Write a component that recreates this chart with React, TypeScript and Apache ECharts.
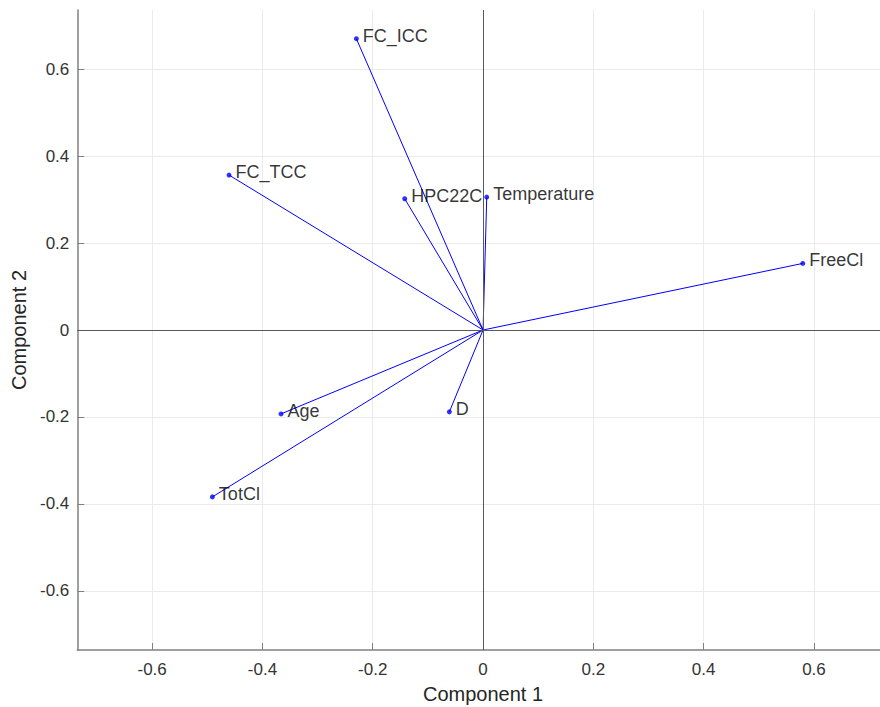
import React, { useEffect, useRef } from "react";
import * as echarts from "echarts";

// Principal component coefficients (biplot vectors)
const variables = ["FC_ICC", "FC_TCC", "HPC22C", "Temperature", "FreeCl", "Age", "D", "TotCl"];
const component1 = [-0.2297, -0.4606, -0.142, 0.0067, 0.5797, -0.3663, -0.0611, -0.4908];
const component2 = [0.6697, 0.3562, 0.3017, 0.3056, 0.1531, -0.1929, -0.1882, -0.3837];

const tickValues = [-0.6, -0.4, -0.2, 0, 0.2, 0.4, 0.6];
const axisLimit = 0.7357;

const FONT = "'Liberation Sans', Helvetica, Arial, sans-serif";
const BLUE = "#0000ff";

export default function App() {
  const ref = useRef<HTMLDivElement>(null);

  useEffect(() => {
    if (!ref.current) return;
    const chart = echarts.init(ref.current, undefined, { renderer: "svg" });

    const vectorSeries = variables.map((name, i) => ({
      type: "line",
      name,
      data: [
        [0, 0],
        [component1[i], component2[i]],
      ],
      showSymbol: false,
      symbol: "none",
      lineStyle: { color: BLUE, width: 1 },
      silent: true,
      z: 3,
    }));

    const axisCommon = {
      type: "value",
      min: -axisLimit,
      max: axisLimit,
      nameLocation: "middle",
      nameTextStyle: { fontFamily: FONT, fontSize: 20, color: "#262626" },
      axisLine: { show: true, onZero: false, lineStyle: { color: "#808080", width: 1.5 } },
      axisTick: {
        show: true,
        inside: true,
        length: 7,
        customValues: tickValues,
        lineStyle: { color: "#808080", width: 1 },
      },
      axisLabel: {
        customValues: tickValues,
        fontFamily: FONT,
        fontSize: 17,
        color: "#333333",
      },
      splitLine: { show: true, lineStyle: { color: "#ebebeb", width: 1 } },
    };

    chart.setOption({
      animation: false,
      backgroundColor: "#ffffff",
      grid: {
        left: 77.3,
        top: 10,
        width: 811.5,
        height: 640,
        containLabel: false,
        outerBoundsMode: "none",
      },
      xAxis: {
        ...axisCommon,
        name: "Component 1",
        nameGap: 34,
        axisLabel: { ...axisCommon.axisLabel, margin: 11 },
      },
      yAxis: {
        ...axisCommon,
        name: "Component 2",
        nameGap: 48,
        axisLabel: { ...axisCommon.axisLabel, margin: 8 },
      },
      series: [
        // Zero reference lines through the origin
        {
          type: "line",
          data: [],
          silent: true,
          markLine: {
            silent: true,
            symbol: "none",
            label: { show: false },
            lineStyle: { color: "#595959", width: 1, type: "solid" },
            data: [{ xAxis: 0 }, { yAxis: 0 }],
          },
          z: 2,
        },
        ...vectorSeries,
        {
          type: "scatter",
          data: variables.map((name, i) => ({ name, value: [component1[i], component2[i]] })),
          symbol: "circle",
          symbolSize: 5,
          itemStyle: { color: BLUE },
          silent: true,
          z: 4,
          label: {
            show: true,
            position: "right",
            distance: 4,
            offset: [0, -3],
            formatter: (p: any) => p.name,
            fontFamily: FONT,
            fontSize: 18,
            color: "#000000",
          },
        },
      ],
    });

    return () => chart.dispose();
  }, []);

  return (
    <div
      ref={ref}
      style={{ position: "fixed", left: 0, top: 0, width: 880, height: 707, background: "#fff" }}
    />
  );
}
